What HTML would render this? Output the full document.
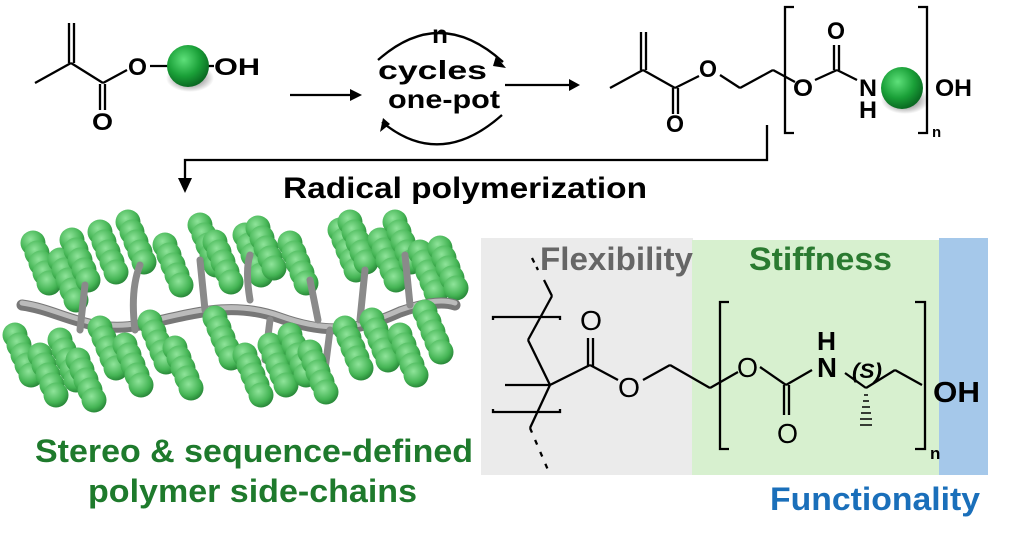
<!DOCTYPE html>
<html><head><meta charset="utf-8"><style>
body{margin:0;background:#fff;}
svg{display:block;font-family:"Liberation Sans",Arial,sans-serif;font-weight:bold;}
</style></head><body>
<svg width="1024" height="540" viewBox="0 0 1024 540" xmlns="http://www.w3.org/2000/svg">
<defs>
<radialGradient id="gb" cx="0.4" cy="0.35" r="0.65">
<stop offset="0" stop-color="#5ee07a"/><stop offset="0.6" stop-color="#1aa038"/><stop offset="1" stop-color="#0a6a22"/></radialGradient>
<radialGradient id="gs" cx="0.4" cy="0.35" r="0.65">
<stop offset="0" stop-color="#8fe49a"/><stop offset="0.7" stop-color="#45b555"/><stop offset="1" stop-color="#2a8a3a"/></radialGradient>
<radialGradient id="sh" cx="0.5" cy="0.5" r="0.5"><stop offset="0.5" stop-color="#000" stop-opacity="0.35"/><stop offset="1" stop-color="#000" stop-opacity="0"/></radialGradient>
<g id="st"><circle cx="0" cy="0" r="12.5" fill="url(#gs)"/><circle cx="4" cy="10" r="12.5" fill="url(#gs)"/><circle cx="8" cy="20" r="12.5" fill="url(#gs)"/><circle cx="12" cy="30" r="12.5" fill="url(#gs)"/><circle cx="16" cy="40" r="12.5" fill="url(#gs)"/></g>
</defs>

<!-- left monomer -->
<g stroke="#000" stroke-width="2.3" fill="none">
<line x1="69" y1="23" x2="69" y2="63"/><line x1="74" y1="23" x2="74" y2="63"/>
<line x1="35" y1="83" x2="71" y2="63"/><line x1="71" y1="63" x2="103" y2="83"/>
<line x1="100" y1="84" x2="100" y2="110"/><line x1="105" y1="84" x2="105" y2="110"/>
<line x1="103" y1="83" x2="127" y2="70"/><line x1="150" y1="66" x2="168" y2="66"/><line x1="208" y1="66" x2="214" y2="66"/>
<line x1="290" y1="95" x2="350" y2="95"/>
<path d="M378,60 Q440,5 503,62"/><path d="M502,115 Q440,170 382,122"/>
<line x1="505" y1="85" x2="570" y2="85"/>
</g>
<path d="M350,89 L362,95 L350,101z"/>
<path d="M496,56 L506,68 L493,66z"/>
<path d="M383,118 L380,132 L390,124z"/>
<path d="M569,79 L580,85 L569,91z"/>
<ellipse cx="190" cy="78" rx="24" ry="14" fill="url(#sh)"/>
<circle cx="188" cy="66" r="21" fill="url(#gb)"/>
<text x="128" y="75" font-size="24" textLength="19" lengthAdjust="spacingAndGlyphs">O</text>
<text x="92" y="130" font-size="24" textLength="21" lengthAdjust="spacingAndGlyphs">O</text>
<text x="214" y="75" font-size="24" textLength="46" lengthAdjust="spacingAndGlyphs">OH</text>
<text x="432" y="43" font-size="25" textLength="16" lengthAdjust="spacingAndGlyphs">n</text>
<text x="378" y="79" font-size="26" textLength="109" lengthAdjust="spacingAndGlyphs">cycles</text>
<text x="388" y="108" font-size="26" textLength="112" lengthAdjust="spacingAndGlyphs">one-pot</text>

<!-- right monomer -->
<g stroke="#000" stroke-width="2.3" fill="none">
<line x1="641" y1="32" x2="641" y2="70"/><line x1="646" y1="32" x2="646" y2="70"/>
<line x1="610" y1="88" x2="643" y2="70"/><line x1="643" y1="70" x2="675" y2="88"/>
<line x1="673" y1="88" x2="673" y2="114"/><line x1="678" y1="88" x2="678" y2="114"/>
<line x1="675" y1="88" x2="699" y2="76"/><line x1="720" y1="75" x2="740" y2="88"/><line x1="740" y1="88" x2="773" y2="70"/><line x1="773" y1="70" x2="795" y2="82"/>
<polyline points="794,7 785,7 785,133 794,133"/>
<polyline points="918,7 927,7 927,133 918,133"/>
<line x1="815" y1="80" x2="837" y2="70"/><line x1="834" y1="70" x2="834" y2="45"/><line x1="839" y1="70" x2="839" y2="45"/>
<line x1="837" y1="70" x2="857" y2="80"/>
<polyline points="767,125 767,160 185,160 185,180"/>
</g>
<path d="M178,178 L185,193 L192,178z"/>
<ellipse cx="905" cy="100" rx="24" ry="14" fill="url(#sh)"/>
<circle cx="902" cy="88" r="21" fill="url(#gb)"/>
<text x="699" y="77" font-size="24" textLength="18" lengthAdjust="spacingAndGlyphs">O</text>
<text x="666" y="132" font-size="24" textLength="18" lengthAdjust="spacingAndGlyphs">O</text>
<text x="793" y="96" font-size="24" textLength="20" lengthAdjust="spacingAndGlyphs">O</text>
<text x="827" y="39" font-size="24" textLength="18" lengthAdjust="spacingAndGlyphs">O</text>
<text x="859" y="96" font-size="24" textLength="18" lengthAdjust="spacingAndGlyphs">N</text>
<text x="859" y="118" font-size="24" textLength="18" lengthAdjust="spacingAndGlyphs">H</text>
<text x="935" y="96" font-size="24" textLength="37" lengthAdjust="spacingAndGlyphs">OH</text>
<text x="932" y="137" font-size="15">n</text>
<text x="283" y="198" font-size="30" textLength="364" lengthAdjust="spacingAndGlyphs">Radical polymerization</text>

<!-- polymer image -->
<g>
<use href="#st" x="33" y="243"/><use href="#st" x="60" y="260"/><use href="#st" x="72" y="240"/><use href="#st" x="100" y="232"/><use href="#st" x="128" y="222"/><use href="#st" x="165" y="245"/><use href="#st" x="200" y="225"/><use href="#st" x="215" y="242"/><use href="#st" x="245" y="235"/><use href="#st" x="258" y="228"/><use href="#st" x="290" y="243"/><use href="#st" x="340" y="230"/><use href="#st" x="350" y="222"/><use href="#st" x="380" y="240"/><use href="#st" x="395" y="222"/><use href="#st" x="420" y="252"/><use href="#st" x="440" y="248"/>
</g>
<g fill="none" stroke-linecap="round">
<path d="M22,305 C60,310 90,335 140,325 C190,315 230,300 280,318 C330,336 360,330 400,312 C420,305 440,300 455,305" stroke="#777" stroke-width="11"/>
<path d="M22,303 C60,308 90,333 140,323 C190,313 230,298 280,316 C330,334 360,328 400,310 C420,303 440,298 455,303" stroke="#bbb" stroke-width="5"/>
<g stroke="#8a8a8a" stroke-width="7">
<path d="M80,330 L85,285"/><path d="M135,330 Q130,290 140,265"/><path d="M205,310 L200,260"/><path d="M250,300 Q245,270 250,255"/><path d="M318,320 L310,280"/><path d="M360,320 L365,270"/><path d="M410,305 L405,255"/><path d="M105,335 L110,375"/><path d="M160,325 L165,365"/><path d="M270,320 L265,360"/><path d="M330,330 L325,370"/>
</g></g>
<g>
<use href="#st" x="15" y="335"/><use href="#st" x="40" y="355"/><use href="#st" x="60" y="340"/><use href="#st" x="78" y="360"/><use href="#st" x="100" y="328"/><use href="#st" x="125" y="345"/><use href="#st" x="150" y="322"/><use href="#st" x="175" y="348"/><use href="#st" x="215" y="318"/><use href="#st" x="245" y="355"/><use href="#st" x="270" y="345"/><use href="#st" x="290" y="335"/><use href="#st" x="310" y="352"/><use href="#st" x="345" y="328"/><use href="#st" x="372" y="320"/><use href="#st" x="400" y="335"/><use href="#st" x="425" y="312"/>
</g>
<text x="35" y="462" font-size="32" fill="#1e7a2c" textLength="438" lengthAdjust="spacingAndGlyphs">Stereo &amp; sequence-defined</text>
<text x="88" y="502" font-size="32" fill="#1e7a2c" textLength="329" lengthAdjust="spacingAndGlyphs">polymer side-chains</text>

<!-- bottom right structure -->
<rect x="481" y="238" width="212" height="237" fill="#ebebeb"/>
<rect x="692" y="240" width="248" height="235" fill="#d7f0cf"/>
<rect x="939" y="238" width="49" height="237" fill="#a5c8ea"/>
<text x="540" y="270" font-size="32" fill="#666" textLength="153" lengthAdjust="spacingAndGlyphs">Flexibility</text>
<text x="749" y="270" font-size="32" fill="#2a7a30" textLength="143" lengthAdjust="spacingAndGlyphs">Stiffness</text>
<text x="770" y="510" font-size="32" fill="#1a6fba" textLength="210" lengthAdjust="spacingAndGlyphs">Functionality</text>
<g stroke="#000" stroke-width="2.3" fill="none">
<line x1="532" y1="258" x2="538" y2="270" stroke-dasharray="5,5"/><line x1="544" y1="280" x2="552" y2="296"/>
<polyline points="493,320 493,317 560,317 560,320"/>
<line x1="552" y1="296" x2="528" y2="340"/><line x1="528" y1="340" x2="550" y2="385"/>
<line x1="505" y1="385" x2="550" y2="385"/><line x1="550" y1="385" x2="590" y2="365"/>
<line x1="588" y1="366" x2="588" y2="338"/><line x1="593" y1="366" x2="593" y2="338"/>
<line x1="590" y1="365" x2="618" y2="380"/><line x1="643" y1="380" x2="670" y2="365"/><line x1="670" y1="365" x2="710" y2="388"/><line x1="710" y1="388" x2="738" y2="372"/>
<polyline points="493,409 493,412 560,412 560,409"/>
<line x1="550" y1="385" x2="530" y2="428"/><line x1="530" y1="428" x2="548" y2="470" stroke-dasharray="5,8"/>
<polyline points="729,302 720,302 720,449 729,449"/>
<polyline points="915,302 925,302 925,449 915,449"/>
<line x1="760" y1="367" x2="786" y2="385"/><line x1="784" y1="385" x2="784" y2="415"/><line x1="789" y1="385" x2="789" y2="415"/>
<line x1="786" y1="385" x2="812" y2="370"/><line x1="845" y1="373" x2="866" y2="388"/><line x1="866" y1="388" x2="895" y2="370"/><line x1="895" y1="370" x2="922" y2="385"/>
</g>
<g stroke="#000" stroke-width="1.5">
<line x1="864" y1="395" x2="868" y2="395"/><line x1="863" y1="401" x2="869" y2="401"/><line x1="862" y1="407" x2="870" y2="407"/><line x1="861" y1="413" x2="871" y2="413"/><line x1="860" y1="419" x2="872" y2="419"/><line x1="860" y1="425" x2="872" y2="425"/>
</g>
<text x="580" y="330" font-size="28" font-weight="normal" textLength="22" lengthAdjust="spacingAndGlyphs">O</text>
<text x="618" y="397" font-size="28" font-weight="normal" textLength="22" lengthAdjust="spacingAndGlyphs">O</text>
<text x="737" y="377" font-size="28" font-weight="normal" textLength="21" lengthAdjust="spacingAndGlyphs">O</text>
<text x="777" y="443" font-size="28" font-weight="normal" textLength="21" lengthAdjust="spacingAndGlyphs">O</text>
<text x="817" y="377" font-size="28" textLength="20" lengthAdjust="spacingAndGlyphs">N</text>
<text x="817" y="350" font-size="26" textLength="19" lengthAdjust="spacingAndGlyphs">H</text>
<text x="852" y="378" font-size="21" font-style="italic" textLength="30" lengthAdjust="spacingAndGlyphs">(S)</text>
<text x="933" y="402" font-size="29" textLength="47" lengthAdjust="spacingAndGlyphs">OH</text>
<text x="930" y="459" font-size="17">n</text>
</svg>
</body></html>
